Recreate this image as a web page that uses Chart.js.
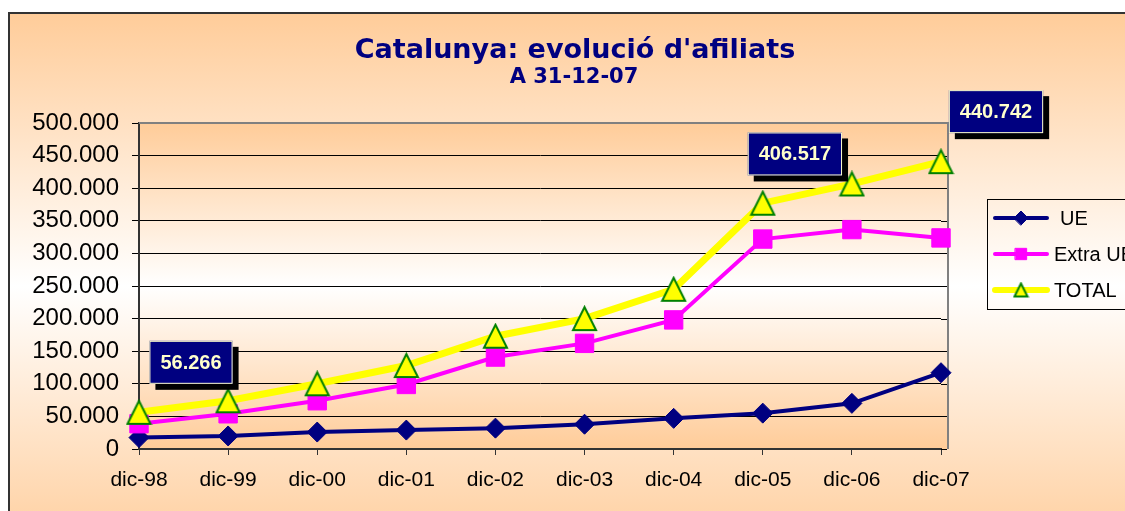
<!DOCTYPE html>
<html>
<head>
<meta charset="utf-8">
<script src="https://cdn.jsdelivr.net/npm/chart.js@4"></script>
<style>
  html, body { margin: 0; padding: 0; background: #fff; }
  canvas { display: block; }
</style>
</head>
<body>
<canvas id="afiliatsChart" width="1125" height="511"></canvas>
<script>
// Dades: afiliats a Catalunya, a 31 de desembre de cada any
const categories = ['dic-98', 'dic-99', 'dic-00', 'dic-01', 'dic-02', 'dic-03', 'dic-04', 'dic-05', 'dic-06', 'dic-07'];
const ueValues = [17500, 20000, 26000, 29000, 32000, 38000, 47000, 55000, 70000, 117000];
const extraUeValues = [38766, 54000, 74000, 99000, 141000, 162000, 198000, 322000, 336500, 323742];
const totalValues = [56266, 74000, 100000, 128000, 173000, 200000, 245000, 377000, 406517, 440742];
const calloutIndexes = [0, 8, 9];

const titleText = 'Catalunya: evolució d\'afiliats';
const subtitleText = 'A 31-12-07';

function formatNumber(v) {
    return String(v).replace(/\B(?=(\d{3})+(?!\d))/g, '.');
}

const PEACH = '#FFCC99';

// triangle centrat a la seva caixa (com l'Excel)
function makeTriangle(size) {
    const c = document.createElement('canvas');
    c.width = size + 4;
    c.height = size + 4;
    const t = c.getContext('2d');
    t.beginPath();
    t.moveTo(c.width / 2, 2);
    t.lineTo(2, size + 2);
    t.lineTo(size + 2, size + 2);
    t.closePath();
    t.fillStyle = '#FFFF00';
    t.fill();
    t.strokeStyle = '#008000';
    t.lineWidth = 2;
    t.lineJoin = 'miter';
    t.stroke();
    return c;
}
const triangleBig = makeTriangle(23);
const triangleSmall = makeTriangle(13);

// fons, marc i títol
const backgroundPlugin = {
    id: 'fons',
    beforeDraw(chart) {
        const ctx = chart.ctx;
        const area = chart.chartArea;
        ctx.save();
        ctx.fillStyle = '#fff';
        ctx.fillRect(0, 0, chart.width, chart.height);

        let grad = ctx.createLinearGradient(0, 12, 0, 560);
        grad.addColorStop(0, PEACH);
        grad.addColorStop(0.5, '#FFFFFF');
        grad.addColorStop(1, PEACH);
        ctx.fillStyle = grad;
        ctx.fillRect(9, 13, chart.width, chart.height);
        ctx.strokeStyle = '#333';
        ctx.lineWidth = 2;
        ctx.beginPath();
        ctx.moveTo(9, chart.height + 2);
        ctx.lineTo(9, 13);
        ctx.lineTo(chart.width + 2, 13);
        ctx.stroke();

        grad = ctx.createLinearGradient(0, area.top, 0, area.bottom);
        grad.addColorStop(0, PEACH);
        grad.addColorStop(0.5, '#FFFFFF');
        grad.addColorStop(1, PEACH);
        ctx.fillStyle = grad;
        ctx.fillRect(area.left, area.top, area.right + 6 - area.left, area.bottom - area.top);

        ctx.fillStyle = '#000080';
        ctx.textAlign = 'center';
        ctx.textBaseline = 'alphabetic';
        ctx.font = 'bold 27px "DejaVu Sans"';
        ctx.fillText(titleText, 575, 58);
        ctx.font = 'bold 21px "DejaVu Sans"';
        ctx.fillText(subtitleText, 574, 83);
        ctx.restore();
    },
    beforeDatasetsDraw(chart) {
        const ctx = chart.ctx;
        const area = chart.chartArea;
        const y = chart.scales.y;
        ctx.save();
        // allarga les línies de la graella fins a la vora
        ctx.strokeStyle = '#000';
        ctx.lineWidth = 1;
        y.ticks.forEach(t => {
            const py = Math.round(y.getPixelForValue(t.value)) + 0.5;
            ctx.beginPath();
            ctx.moveTo(area.right, py);
            ctx.lineTo(area.right + 6, py);
            ctx.stroke();
        });
        ctx.strokeStyle = '#808080';
        ctx.lineWidth = 2;
        ctx.beginPath();
        ctx.moveTo(area.left, area.top);
        ctx.lineTo(area.right + 7, area.top);
        ctx.lineTo(area.right + 7, area.bottom);
        ctx.stroke();
        ctx.restore();
    }
};

// etiquetes amb el total
const calloutPlugin = {
    id: 'etiquetes',
    afterDatasetsDraw(chart, args, opts) {
        const ctx = chart.ctx;
        const x = chart.scales.x;
        const y = chart.scales.y;
        ctx.save();
        ctx.font = 'bold 20px "Liberation Sans"';
        ctx.textAlign = 'center';
        ctx.textBaseline = 'middle';
        calloutIndexes.forEach((idx, n) => {
            const off = opts.offsets[n];
            const cx = x.getPixelForValue(idx) + off[0];
            const cy = y.getPixelForValue(totalValues[idx]) + off[1];
            const label = formatNumber(totalValues[idx]);
            const w = ctx.measureText(label).width + 22;
            const h = 43;
            ctx.fillStyle = '#000';
            ctx.fillRect(cx - w / 2 + 6, cy - h / 2 + 6, w, h);
            ctx.fillStyle = '#000080';
            ctx.fillRect(cx - w / 2, cy - h / 2, w, h);
            ctx.strokeStyle = '#FFFFCC';
            ctx.lineWidth = 1;
            ctx.strokeRect(cx - w / 2 + 0.5, cy - h / 2 + 0.5, w - 1, h - 1);
            ctx.fillStyle = '#FFFFCC';
            ctx.fillText(label, cx, cy + 1);
        });
        ctx.restore();
    }
};

// llegenda a mida
const legendPlugin = {
    id: 'llegenda',
    afterDraw(chart) {
        const ctx = chart.ctx;
        ctx.save();
        ctx.strokeStyle = '#000';
        ctx.lineWidth = 1;
        ctx.strokeRect(987.5, 199.5, 200, 110);
        ctx.font = '20px "Liberation Sans"';
        ctx.textAlign = 'left';
        ctx.textBaseline = 'middle';
        chart.data.datasets.forEach((ds, i) => {
            const ly = 218 + i * 36;
            ctx.strokeStyle = ds.borderColor;
            ctx.lineWidth = ds.legendLine;
            ctx.lineCap = 'round';
            ctx.beginPath();
            ctx.moveTo(995, ly);
            ctx.lineTo(1047, ly);
            ctx.stroke();
            ctx.fillStyle = ds.pointBackgroundColor;
            ctx.strokeStyle = ds.pointBorderColor;
            ctx.lineWidth = ds.pointBorderWidth;
            Chart.helpers.drawPoint(ctx, {
                pointStyle: ds.legendStyle || ds.pointStyle,
                radius: ds.legendRadius,
                rotation: 0,
                borderWidth: ds.pointBorderWidth
            }, 1021, ly);
            ctx.fillStyle = '#000';
            ctx.fillText(ds.label, i === 0 ? 1060 : 1054, ly + 1);
        });
        ctx.restore();
    }
};

const ctx = document.getElementById('afiliatsChart').getContext('2d');
new Chart(ctx, {
    type: 'line',
    data: {
        labels: categories,
        datasets: [{
            label: 'UE',
            data: ueValues,
            borderColor: '#000080',
            borderWidth: 4,
            pointStyle: 'rectRot',
            pointRadius: 10,
            pointBackgroundColor: '#000080',
            pointBorderColor: '#000080',
            pointBorderWidth: 1,
            legendLine: 4,
            legendRadius: 7,
            order: 2
        }, {
            label: 'Extra UE',
            data: extraUeValues,
            borderColor: '#FF00FF',
            borderWidth: 4,
            pointStyle: 'rect',
            pointRadius: 13,
            pointBackgroundColor: '#FF00FF',
            pointBorderColor: '#FF00FF',
            pointBorderWidth: 1,
            legendLine: 4,
            legendRadius: 8,
            order: 1
        }, {
            label: 'TOTAL',
            data: totalValues,
            borderColor: '#FFFF00',
            borderWidth: 7,
            pointStyle: triangleBig,
            legendStyle: triangleSmall,
            pointRadius: 13,
            pointBackgroundColor: '#FFFF00',
            pointBorderColor: '#008000',
            pointBorderWidth: 2,
            legendLine: 6,
            legendRadius: 8,
            order: 0
        }]
    },
    options: {
        responsive: false,
        animation: false,
        devicePixelRatio: 1,
        layout: {
            padding: { top: 123, right: 184, bottom: 0, left: 0 }
        },
        scales: {
            x: {
                offset: false,
                afterFit: function (scale) { scale.height = 62; },
                grid: {
                    drawOnChartArea: false,
                    drawTicks: true,
                    tickLength: 6,
                    color: '#333'
                },
                border: { display: true, color: '#333', width: 2 },
                ticks: {
                    color: '#000',
                    padding: 13,
                    maxRotation: 0,
                    autoSkip: false,
                    font: { family: '"Liberation Sans"', size: 21 }
                }
            },
            y: {
                min: 0,
                max: 500000,
                afterFit: function (scale) { scale.width = 139; },
                grid: {
                    color: '#000',
                    lineWidth: 1,
                    drawTicks: true,
                    tickLength: 7
                },
                border: { display: true, color: '#333', width: 2 },
                ticks: {
                    stepSize: 50000,
                    color: '#000',
                    padding: 13,
                    font: { family: '"Liberation Sans"', size: 24 },
                    callback: function (value) { return formatNumber(value); }
                }
            }
        },
        plugins: {
            legend: { display: false },
            title: { display: false },
            tooltip: { enabled: false },
            etiquetes: {
                offsets: [[52, -50], [-57, -30], [55, -50]]
            }
        }
    },
    plugins: [backgroundPlugin, calloutPlugin, legendPlugin]
});
</script>
</body>
</html>
